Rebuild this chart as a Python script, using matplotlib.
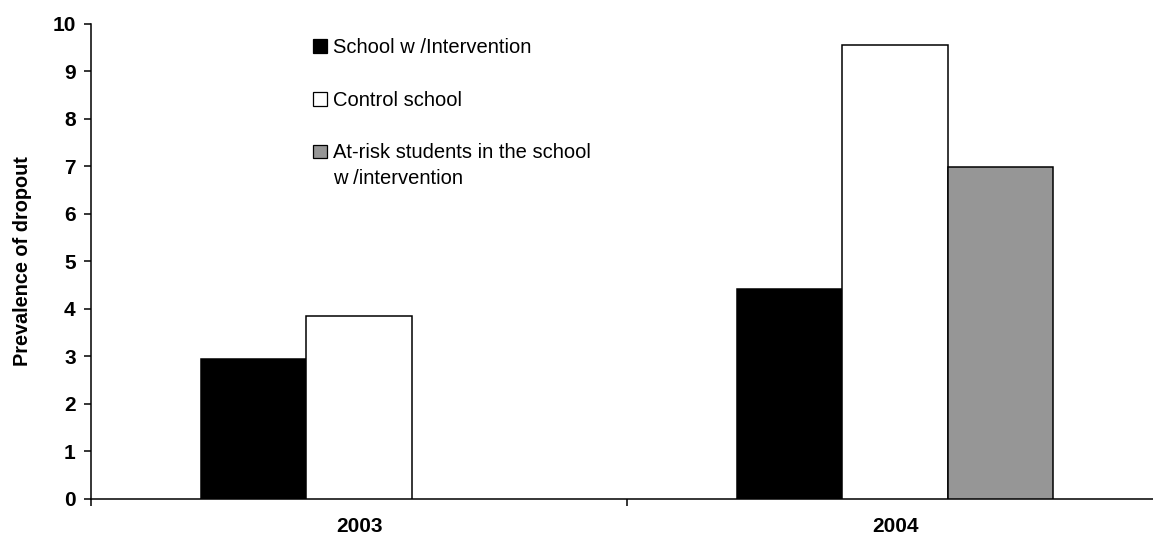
import matplotlib
matplotlib.use("Agg")
import matplotlib.pyplot as plt
from matplotlib.patches import Rectangle
import numpy as np

plt.rcParams['font.family'] = ['Liberation Sans', 'DejaVu Sans']

years = ["2003", "2004"]
series_names = [
    "School w /Intervention",
    "Control school",
    "At-risk students in the school\nw /intervention",
]
intervention = [2.94, 4.42]
control = [3.84, 9.55]
at_risk = [np.nan, 6.99]
series_values = [intervention, control, at_risk]
series_colors = ["#000000", "#ffffff", "#969696"]
y_ticks = list(range(0, 11))

W, H = 1153, 540
fig = plt.figure(figsize=(W / 100, H / 100), dpi=100)
left, right, top, bottom = 91, 1163, 23.7, 498.5
ax = fig.add_axes([left / W, 1 - bottom / H, (right - left) / W, (bottom - top) / H])

x = np.arange(len(years))
bw = 0.196
for i, (vals, col) in enumerate(zip(series_values, series_colors)):
    ax.bar(x + (i - 1) * bw, vals, width=bw, color=col, edgecolor="black",
           linewidth=1.1, zorder=3)

ax.set_xlim(-0.5, len(years) - 0.5)
ax.set_ylim(0, 10)
ax.set_yticks(y_ticks)
ax.set_yticklabels([str(t) for t in y_ticks], fontsize=15, fontweight="bold")
ax.set_xticks(x)
ax.set_xticklabels(years, fontsize=15, fontweight="bold")
ax.set_xticks(np.arange(-0.5, len(years)), minor=True)
ax.tick_params(axis="x", which="major", length=0, pad=13)
ax.tick_params(axis="x", which="minor", length=5, width=1.1, direction="out")
ax.tick_params(axis="y", length=5, width=1.1, direction="out", pad=6)

for s in ["top", "right"]:
    ax.spines[s].set_visible(False)
for s in ["left", "bottom"]:
    ax.spines[s].set_linewidth(1.1)
    ax.spines[s].set_color("black")

ax.set_ylabel("Prevalence of dropout", fontsize=14.3, fontweight="bold", labelpad=14.5)

# legend drawn by hand so the swatch sits beside the first line of each label
row_centers = [46, 99, 151.5]
sw = 13.5
fs = 14.5
renderer = fig.canvas.get_renderer()
for name, col, yc in zip(series_names, series_colors, row_centers):
    fig.patches.append(Rectangle((313 / W, 1 - (yc + sw / 2) / H), sw / W, sw / H,
                                 transform=fig.transFigure, facecolor=col,
                                 edgecolor="black", linewidth=0.9))
    # place the first line on its baseline, then hang the full label from that top
    first = fig.text(333 / W, 1 - (yc + 7) / H, name.split("\n")[0], fontsize=fs,
                     va="baseline", ha="left")
    top_px = first.get_window_extent(renderer).y1
    first.remove()
    fig.text(333 / W, top_px / H, name, fontsize=fs, va="top", ha="left",
             linespacing=1.45)

fig.savefig("out.png", dpi=100)
